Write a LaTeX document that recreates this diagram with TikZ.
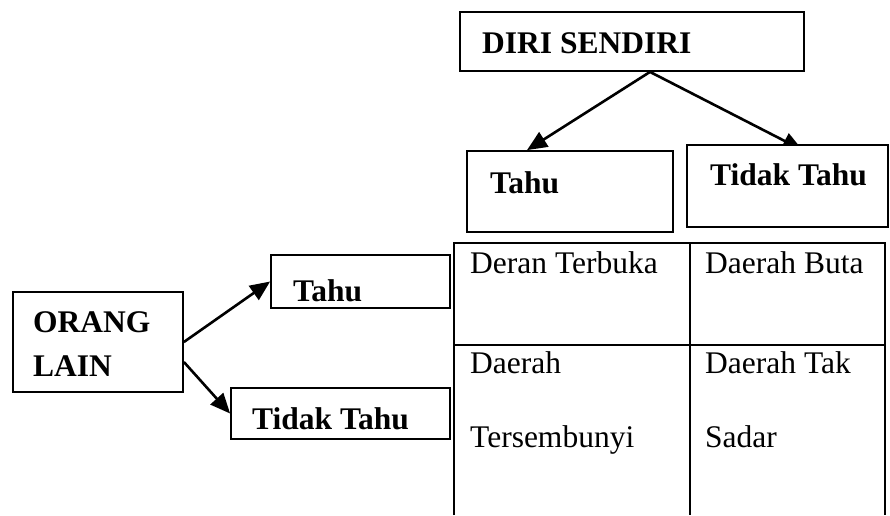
\documentclass[tikz,border=0pt]{standalone}
\usepackage{fontspec}
\setmainfont{Liberation Serif}
\usetikzlibrary{arrows.meta,calc}
\pgfdeclarelayer{behind}
\pgfsetlayers{behind,main}
\tikzset{
  box/.style={draw, fill=white, line width=1.8pt, rectangle, inner sep=0pt},
  lbl/.style={anchor=base west, inner sep=0pt, font=\fontsize{31.5}{38}\selectfont},
  blbl/.style={lbl, font=\fontsize{31.5}{38}\selectfont\bfseries},
  link/.style={line width=2.6pt, -{Triangle[length=20pt,width=17pt]}},
  gridline/.style={line width=2.2pt}
}
\begin{document}
\begin{tikzpicture}[x=1pt,y=-1pt]
\useasboundingbox (0,0) rectangle (890,515);

% boxes
\node[box, minimum width=344pt, minimum height=59pt] (diri) at (632,41.5) {};
\node[box, minimum width=206pt, minimum height=81pt] (tahuA) at (570,191.5) {};
\node[box, minimum width=201pt, minimum height=82pt] (tidakA) at (787.5,186) {};
\node[box, minimum width=170pt, minimum height=100pt] (orang) at (98,342) {};
\node[box, minimum width=179pt, minimum height=53pt] (tahuB) at (360.5,281.5) {};
\node[box, minimum width=219pt, minimum height=51pt] (tidakB) at (340.5,413.5) {};

% labels in boxes
\node[blbl] (tDiri) at (482,53) {DIRI SENDIRI};
\node[blbl] (tTahuA) at (490,193) {Tahu};
\node[blbl] (tTidakA) at (710,185) {Tidak Tahu};
\node[blbl] (tOrang) at (33,332) {ORANG};
\node[blbl] (tLain) at (33,376) {LAIN};
\node[blbl] (tTahuB) at (293,301) {Tahu};
\node[blbl] (tTidakB) at (252,429) {Tidak Tahu};

% arrows, kept behind the white-filled boxes
\coordinate (dsrc) at ($(diri.south)+(18,0)$);
\coordinate (tahuAend) at ($(tahuA.north)+(-43,0)$);
\coordinate (tidakAend) at ($(tidakA.north)+(15,6)$);
\coordinate (osrc) at ($(orang.east)+(0,20)$);
\begin{pgfonlayer}{behind}
\draw[link] (dsrc) -- (tahuAend);
\draw[link] (dsrc) -- (tidakAend);
\draw[link] (orang.east) -- (tahuB.west);
\draw[link] (osrc) -- (tidakB.west);
\end{pgfonlayer}

% Johari window grid
\draw[gridline] (454,515) -- (454,243) -- (885,243) -- (885,515);
\draw[gridline] (690,243) -- (690,515);
\draw[gridline] (454,345) -- (885,345);

\node[lbl] (c11) at (470,273) {Deran Terbuka};
\node[lbl] (c12) at (705,273) {Daerah Buta};
\node[lbl] (c21a) at (470,373) {Daerah};
\node[lbl] (c21b) at (470,447) {Tersembunyi};
\node[lbl] (c22a) at (705,373) {Daerah Tak};
\node[lbl] (c22b) at (705,447) {Sadar};
\end{tikzpicture}
\end{document}
